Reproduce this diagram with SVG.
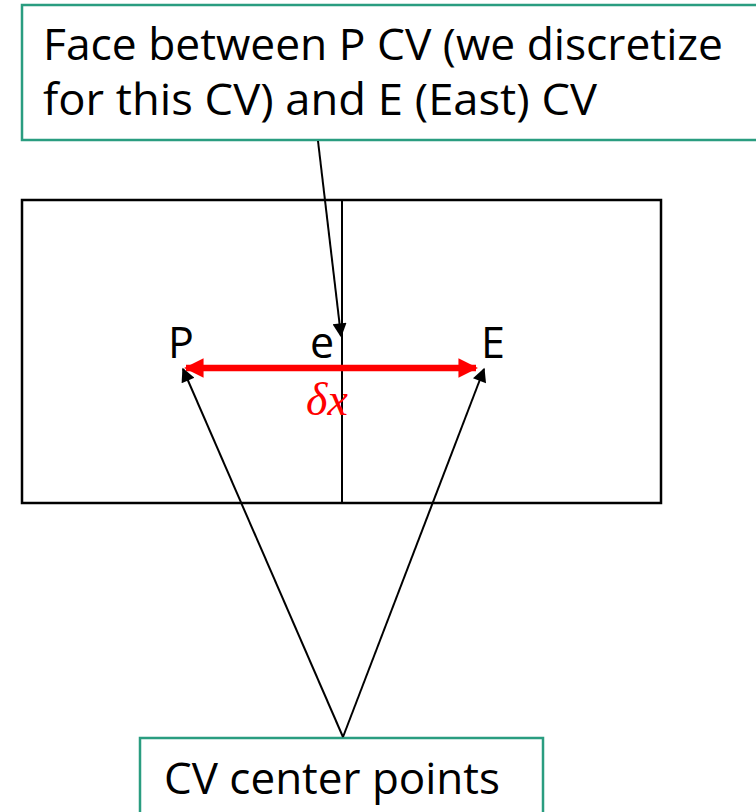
<svg xmlns="http://www.w3.org/2000/svg" width="756" height="812" viewBox="0 0 756 812">
<style>
.lbl{font-family:"Open Sans","Noto Sans",sans-serif;fill:#000}
.box{fill:#fff;stroke:#2a9d80;stroke-width:2.5}
.ln{stroke:#000;stroke-width:2;fill:none}
</style>
<defs>
<marker id="ahb" viewBox="0 0 10 10" refX="9" refY="5" markerWidth="16" markerHeight="14" markerUnits="userSpaceOnUse" orient="auto"><path d="M0,0L10,5L0,10z" fill="#000"/></marker>
<marker id="rh" viewBox="0 0 10 10" refX="9" refY="5" markerWidth="3" markerHeight="3" orient="auto-start-reverse"><path d="M0,0L10,5L0,10z" fill="#f00"/></marker>
</defs>
<g id="cv-domain">
<rect x="22" y="200" width="639" height="303" fill="#fff" stroke="#000" stroke-width="2.5"/>
<line x1="342" y1="200" x2="342" y2="503" class="ln"/>
</g>
<g id="label-P"><text x="168" y="358" class="lbl" font-size="43">P</text></g>
<g id="label-e"><text x="310" y="358" class="lbl" font-size="43">e</text></g>
<g id="label-E"><text x="481" y="358" class="lbl" font-size="43">E</text></g>
<g id="delta-x">
<line x1="186" y1="368" x2="476" y2="368" stroke="#f00" stroke-width="6.5" marker-start="url(#rh)" marker-end="url(#rh)"/>
<text x="306" y="415" font-family="Liberation Serif,serif" font-style="italic" font-size="46" fill="#f00">δx</text>
</g>
<g id="face-note">
<rect x="22" y="5" width="760" height="135" class="box"/>
<text x="43" y="60" class="lbl" font-size="44" textLength="680" lengthAdjust="spacingAndGlyphs">Face between P CV (we discretize</text>
<text x="43" y="115" class="lbl" font-size="44" textLength="554" lengthAdjust="spacingAndGlyphs">for this CV) and E (East) CV</text>
</g>
<g id="center-note">
<rect x="140" y="738" width="403" height="90" class="box"/>
<text x="164" y="794" class="lbl" font-size="44" textLength="336" lengthAdjust="spacingAndGlyphs">CV center points</text>
</g>
<g id="connectors">
<line x1="318" y1="141" x2="341" y2="336" class="ln" marker-end="url(#ahb)"/>
<line x1="343" y1="737" x2="183" y2="369" class="ln" marker-end="url(#ahb)"/>
<line x1="343" y1="737" x2="484" y2="369" class="ln" marker-end="url(#ahb)"/>
</g>
</svg>
